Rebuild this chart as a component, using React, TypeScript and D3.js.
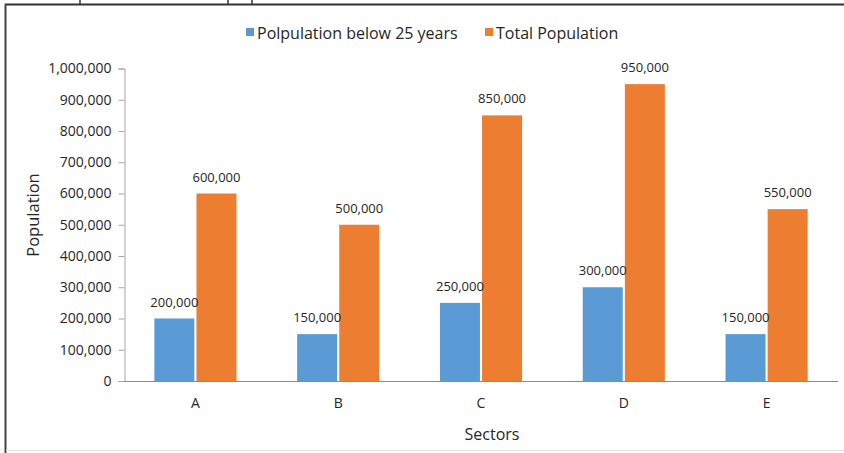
import React, { useEffect, useRef } from "react";
import * as d3 from "d3";

const categories = ["A", "B", "C", "D", "E"];
const below25 = [200000, 150000, 250000, 300000, 150000];
const total = [600000, 500000, 850000, 950000, 550000];
const seriesNames = ["Polpulation below 25 years", "Total Population"];
const colors = ["#5B9BD5", "#ED7D31"];
const yTicks = [0, 100000, 200000, 300000, 400000, 500000, 600000, 700000, 800000, 900000, 1000000];

const W = 844;
const H = 453;
const FONT = "'Open Sans', 'Liberation Sans', sans-serif";

export default function App() {
  const ref = useRef<SVGSVGElement>(null);

  useEffect(() => {
    const svg = d3.select(ref.current);
    svg.selectAll("*").remove();

    svg.append("rect").attr("width", W).attr("height", H).attr("fill", "#fff");

    // frame fragments
    svg.append("line").attr("x1", 5).attr("x2", W).attr("y1", 4.5).attr("y2", 4.5).attr("stroke", "#333").attr("stroke-width", 2);
    svg.append("line").attr("x1", 5.5).attr("x2", 5.5).attr("y1", 4).attr("y2", H).attr("stroke", "#444").attr("stroke-width", 2);
    [80, 228, 252].forEach((x) =>
      svg.append("line").attr("x1", x).attr("x2", x).attr("y1", 0).attr("y2", 4).attr("stroke", "#333").attr("stroke-width", 1.5)
    );
    svg.append("line").attr("x1", 6).attr("x2", W).attr("y1", 450.5).attr("y2", 450.5).attr("stroke", "#e2e2e2").attr("stroke-width", 1);

    const x0 = d3.scaleBand<string>().domain(categories).range([124, 838]).paddingInner(0.425).paddingOuter(0.2125);
    const x1 = d3.scaleBand<number>().domain([0, 1]).range([0, x0.bandwidth()]).paddingInner(0.05);
    const y = d3.scaleLinear().domain([0, 1000000]).range([381, 68.5]);

    const fmt = d3.format(",");

    // y axis
    const yAxis = d3.axisLeft(y).tickValues(yTicks).tickFormat((d) => fmt(d as number)).tickSize(6).tickPadding(7);
    const gy = svg.append("g").attr("transform", "translate(124.5,0)").call(yAxis);
    gy.select(".domain").attr("stroke", "#a6a6a6");
    gy.selectAll(".tick line").attr("stroke", "#a6a6a6");
    gy.selectAll("text").attr("font-family", FONT).attr("font-size", 14).attr("fill", "#262626");

    // x axis
    const xAxis = d3.axisBottom(x0).tickSize(0).tickPadding(17);
    const gx = svg.append("g").attr("transform", "translate(0,381.5)").call(xAxis);
    gx.select(".domain").attr("stroke", "#8c8c8c").attr("d", "M124,0H838");
    gx.selectAll("text").attr("font-family", FONT).attr("font-size", 14).attr("fill", "#262626");

    const series = [below25, total];
    const barsG = svg.append("g");
    const labelsG = svg.append("g");
    series.forEach((vals, si) => {
      barsG.append("g").selectAll("rect")
        .data(vals)
        .join("rect")
        .attr("x", (_, i) => (x0(categories[i]) as number) + (x1(si) as number))
        .attr("y", (d) => y(d))
        .attr("width", x1.bandwidth())
        .attr("height", (d) => y(0) - y(d))
        .attr("fill", colors[si]);
      labelsG.append("g").selectAll("text")
        .data(vals)
        .join("text")
        .attr("x", (_, i) => (x0(categories[i]) as number) + (x1(si) as number) + x1.bandwidth() / 2)
        .attr("y", (d) => y(d) - 12)
        .attr("text-anchor", "middle")
        .attr("font-family", FONT)
        .attr("font-size", 13)
        .attr("fill", "#262626")
        .text((d) => fmt(d));
    });

    // legend
    const legendItems = [
      { x: 246, label: seriesNames[0], c: colors[0] },
      { x: 485, label: seriesNames[1], c: colors[1] },
    ];
    legendItems.forEach((it) => {
      svg.append("rect").attr("x", it.x).attr("y", 28).attr("width", 8).attr("height", 8).attr("fill", it.c);
      svg.append("text").attr("x", it.x + 11).attr("y", 38.5).attr("font-family", FONT).attr("font-size", 16).attr("fill", "#262626").text(it.label);
    });

    // axis titles
    svg.append("text")
      .attr("transform", "translate(39,215) rotate(-90)")
      .attr("text-anchor", "middle")
      .attr("font-family", FONT)
      .attr("font-size", 16.5)
      .attr("fill", "#262626")
      .text("Population");
    svg.append("text")
      .attr("x", 492)
      .attr("y", 440)
      .attr("text-anchor", "middle")
      .attr("font-family", FONT)
      .attr("font-size", 16)
      .attr("fill", "#262626")
      .text("Sectors");
  }, []);

  return <svg ref={ref} width={W} height={H} style={{ position: "absolute", left: 0, top: 0 }} />;
}
